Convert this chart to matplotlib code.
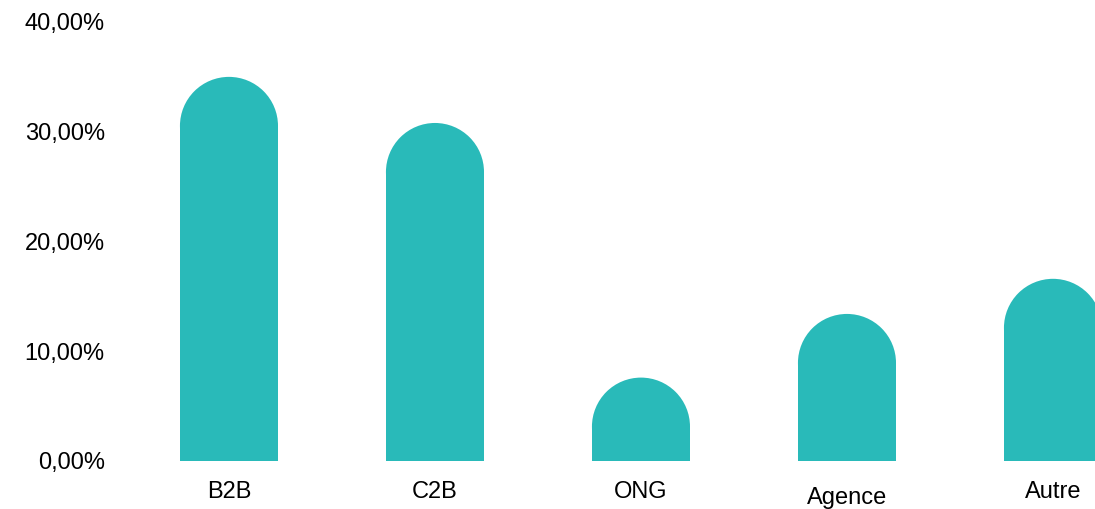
import matplotlib.pyplot as plt
from matplotlib.patches import Ellipse
from matplotlib.transforms import offset_copy
import numpy as np

categories = ['B2B', 'C2B', 'ONG', 'Agence', 'Autre']
values = [35.0, 30.8, 7.6, 13.4, 16.6]
ytick_vals = [0, 10, 20, 30, 40]
ytick_labels = ['0,00%', '10,00%', '20,00%', '30,00%', '40,00%']

teal = '#29BAB9'
plt.rcParams['font.family'] = ['Liberation Sans', 'DejaVu Sans']

fig = plt.figure(figsize=(10.95, 5.09), dpi=100)
ax = fig.add_axes([120 / 1095, 48 / 509, 975 / 1095, 439 / 509])
ax.set_xlim(-0.529, 4.204)
ax.set_ylim(0, 40)

x = np.arange(len(categories))
width = 0.476

# radius of the rounded top, in y data units (so the cap looks circular)
px_per_x = ax.transData.transform((1, 0))[0] - ax.transData.transform((0, 0))[0]
px_per_y = ax.transData.transform((0, 1))[1] - ax.transData.transform((0, 0))[1]
r_y = (width / 2) * px_per_x / px_per_y

body = np.array(values) - r_y
ax.bar(x, body, width=width, color=teal, linewidth=0)
for xi, top in zip(x, body):
    ax.add_patch(Ellipse((xi, top), width, 2 * r_y, color=teal, linewidth=0))

ax.set_yticks(ytick_vals)
ax.set_yticklabels(ytick_labels, fontsize=17, color='black')
ax.tick_params(axis='y', length=0, pad=11)
ax.set_xticks([])
for s in ax.spines.values():
    s.set_visible(False)

for xi, lab in zip(x, categories):
    drop = 19 if lab == 'Agence' else 14.5
    tr = offset_copy(ax.transData, fig=fig, x=0, y=-drop, units='points')
    ax.text(xi, 0, lab, transform=tr, ha='center', va='top', fontsize=17,
            color='black')

fig.savefig('out.png', dpi=100)
